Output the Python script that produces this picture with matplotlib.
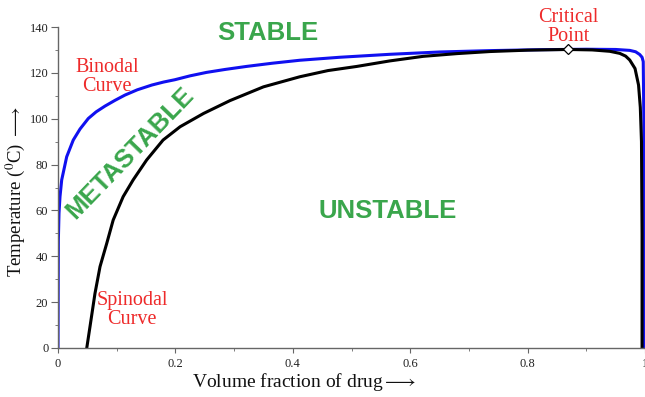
import matplotlib
matplotlib.use('Agg')
import matplotlib.pyplot as plt
from matplotlib.ticker import MultipleLocator

plt.rcParams['font.family'] = ['Liberation Serif', 'DejaVu Sans']
plt.rcParams['mathtext.fontset'] = 'stix'

# curva binodal (azul)
bin_x = [0, 0.0003, 0.0006, 0.0017, 0.0034, 0.0063, 0.0148, 0.026, 0.0375, 0.0516,
         0.065, 0.08, 0.097, 0.114, 0.135, 0.16, 0.18, 0.199, 0.225, 0.253, 0.285,
         0.321, 0.365, 0.412, 0.48, 0.566, 0.65, 0.736, 0.82, 0.9, 0.95, 0.974,
         0.984, 0.991, 0.995, 0.997, 0.998, 0.998]
bin_y = [0, 25, 47, 58.8, 66, 73.3, 83.4, 90.7, 95.5, 100.1,
         103, 105.5, 108, 110.3, 112.6, 114.7, 116, 117, 118.7, 120.2, 121.5,
         122.8, 124.2, 125.5, 126.8, 128.1, 129.1, 129.7, 130.1, 130.3, 130.2, 129.8,
         129.2, 128, 126.8, 124.9, 100, 0]

# curva espinodal (preta)
spi_x = [0.049, 0.0545, 0.063, 0.0716, 0.083, 0.094, 0.111, 0.128, 0.151, 0.179,
         0.208, 0.248, 0.293, 0.35, 0.412, 0.46, 0.509, 0.565, 0.622, 0.68, 0.736,
         0.8, 0.869, 0.91, 0.94, 0.957, 0.967, 0.974, 0.983, 0.989, 0.992, 0.994,
         0.995, 0.995]
spi_y = [0, 9.3, 23.8, 35.5, 45.6, 55.8, 66, 73.3, 82, 90.7,
         96.5, 102.3, 107.9, 113.9, 118.3, 121, 122.8, 125.2, 127.2, 128.4, 129.3,
         129.9, 130.2, 130, 129.4, 128.5, 127.3, 125.6, 121.9, 114.7, 105, 90,
         50, 0]

crit_x = [0.869]
crit_y = [130.2]

verde = '#3aa64c'
vermelho = '#ee2a2a'

fig = plt.figure(figsize=(6.45, 3.97), dpi=100)
ax = fig.add_axes([58 / 645, 49 / 397, 587 / 645, 321 / 397])

ax.plot(bin_x, bin_y, color='#1010f0', lw=2.2, solid_joinstyle='round')
ax.plot(spi_x, spi_y, color='black', lw=2.2, solid_joinstyle='round')
ax.plot(crit_x, crit_y, marker='D', markersize=5, markerfacecolor='white',
        markeredgecolor='black', markeredgewidth=0.9, linestyle='none', zorder=5)

ax.set_xlim(0, 1)
ax.set_ylim(0, 140)
ax.set_xticks([0, 0.2, 0.4, 0.6, 0.8, 1])
ax.set_xticklabels(['0', '0.2', '0.4', '0.6', '0.8', '1'])
ax.set_yticks(range(0, 141, 20))
ax.xaxis.set_minor_locator(MultipleLocator(0.1))
ax.yaxis.set_minor_locator(MultipleLocator(10))

for s in ['top', 'right']:
    ax.spines[s].set_visible(False)
for s in ['left', 'bottom']:
    ax.spines[s].set_color('#666666')
    ax.spines[s].set_linewidth(1.0)

ax.tick_params(axis='both', which='both', colors='#666666', labelcolor='#222222',
               labelsize=9)
ax.tick_params(axis='y', which='major', length=5, pad=2)
ax.tick_params(axis='y', which='minor', length=2.5)
ax.tick_params(axis='x', which='major', length=3.5, pad=4)
ax.tick_params(axis='x', which='minor', length=2.5)

ax.set_xlabel(r'Volume fraction of drug$\longrightarrow$', fontsize=14, color='#111111')
ax.xaxis.set_label_coords(0.42, -0.072)
ax.set_ylabel(r'Temperature ($^0$C) $\longrightarrow$', fontsize=13.5, color='#111111')
ax.yaxis.set_label_coords(-0.053, 0.4875)

ax.text(0.358, 137.4, 'STABLE', color=verde, fontsize=18.5, fontweight='bold',
        family='Liberation Sans', ha='center', va='center')
ax.text(0.562, 59.8, 'UNSTABLE', color=verde, fontsize=18.5, fontweight='bold',
        family='Liberation Sans', ha='center', va='center')
ax.text(0.1227, 85.0, 'METASTABLE', color=verde, fontsize=18.5, fontweight='bold',
        family='Liberation Sans', ha='center', va='center', rotation=46,
        rotation_mode='anchor')

ax.text(0.0835, 118.2, 'Binodal\nCurve', color=vermelho, fontsize=14.5,
        ha='center', va='center', linespacing=1.05)
ax.text(0.126, 16.6, 'Spinodal\nCurve', color=vermelho, fontsize=14.5,
        ha='center', va='center', linespacing=1.05)
ax.text(0.869, 140.0, 'Critical\nPoint', color=vermelho, fontsize=14.5,
        ha='center', va='center', linespacing=1.05, clip_on=False)

fig.savefig('out.png', dpi=100)
